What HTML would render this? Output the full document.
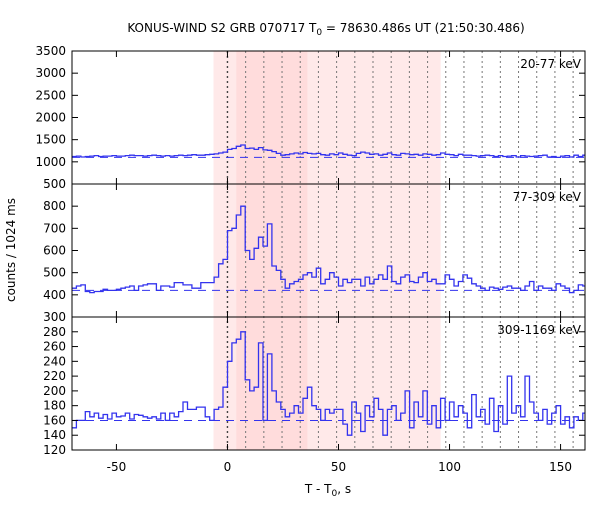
<!DOCTYPE html>
<html><head><meta charset="utf-8"><style>
body{margin:0;background:#fff;}
svg text{font-family:"DejaVu Sans","Liberation Sans",sans-serif;font-size:12px;fill:#000;}
</style></head><body>
<svg id="chart" width="600" height="500" xmlns="http://www.w3.org/2000/svg">
<text x="326" y="32" text-anchor="middle">KONUS-WIND S2 GRB 070717 T<tspan font-size="9" dy="3">0</tspan><tspan dy="-3"> = 78630.486s UT (21:50:30.486)</tspan></text>
<text transform="translate(15,250) rotate(-90)" text-anchor="middle">counts / 1024 ms</text>
<text x="328" y="493" text-anchor="middle">T - T<tspan font-size="9" dy="3">0</tspan><tspan dy="-3">, s</tspan></text>
<g id="plots"></g>
</svg>
<script>
const xTicks=[-50,0,50,100,150];
const binStart=-70, binWidth=2;
const topValues=[1120,1130,1110,1120,1130,1140,1120,1130,1130,1140,1130,1130,1140,1150,1140,1140,1130,1140,1150,1140,1130,1140,1130,1140,1150,1140,1150,1160,1150,1150,1160,1170,
1180,1200,1220,
1280,1300,1350,1380,1300,1310,1280,1320,1270,1260,1230,1190,1150,1160,1180,1200,1180,1210,1190,1180,1190,1160,1150,1180,1160,1200,1170,1150,1140,1190,1220,1200,1170,1180,1150,1170,1200,1160,1150,1190,1180,1160,1170,1150,1180,1170,1150,1160,1200,1170,1160,1140,1170,1150,1150,1140,1130,1140,1150,1140,1120,1140,1120,1130,1140,1110,1140,1130,1120,1130,1140,1150,1110,1120,1100,1130,1140,1110,1150,1120,1150];
const midValues=[430,440,445,415,410,415,415,425,420,420,425,430,435,440,420,440,445,450,450,420,440,440,435,455,455,445,445,430,430,455,455,455,
480,540,560,
690,700,760,800,600,560,610,660,620,720,530,510,470,430,450,460,470,490,500,480,520,450,470,500,480,440,470,455,470,470,440,480,450,470,490,470,530,460,450,480,490,460,455,480,500,460,470,450,450,490,470,440,460,490,475,450,440,430,420,435,430,425,435,440,430,430,420,440,460,420,440,430,430,420,450,440,430,410,420,445,440];
const lowValues=[150,160,160,172,165,170,163,168,162,170,165,166,170,162,168,167,165,163,165,162,170,160,170,165,172,185,175,175,178,178,165,160,
175,178,205,
240,265,270,280,215,200,205,265,160,250,200,185,175,165,170,180,170,190,205,180,175,160,175,170,175,175,155,140,185,170,145,180,165,190,175,140,175,180,160,170,200,150,185,165,200,155,180,150,190,160,185,165,180,170,150,195,165,175,155,190,145,180,155,220,170,180,165,220,185,170,160,175,155,170,180,155,165,150,165,160,170];
const bgLevels=[1100,420,160];
const panelRanges=[[500,3500],[300,900],[120,300]];
const panelTicks=[[1000,1500,2000,2500,3000,3500],[400,500,600,700,800],[140,160,180,200,220,240,260,280]];
const bottomLabels=["500","300","120"];
const panelLabels=["20-77 keV","77-309 keV","309-1169 keV"];
const panelData=[topValues,midValues,lowValues];

const NS="http://www.w3.org/2000/svg";
const L=72,R=585,panelTop=[51,184,317],panelH=133;
const xMin=-70,xMax=161;
function xs(t){return L+(t-xMin)/(xMax-xMin)*(R-L);}
const g=document.getElementById('plots');
function mk(tag,attrs,parent){const e=document.createElementNS(NS,tag);for(const k in attrs)e.setAttribute(k,attrs[k]);(parent||g).appendChild(e);return e;}

let e=mk('rect',{x:xs(-6.3),y:51,width:xs(96)-xs(-6.3),height:399,fill:'#ffe9e9'});


e=mk('rect',{x:xs(4),y:51,width:xs(36)-xs(4),height:399,fill:'#ffdcdc'});


for(let k=0;k<20;k++){const x=xs(8.192*k);
 e=mk('line',{x1:x,x2:x,y1:51,y2:450,stroke:k==0?'#444':'#777','stroke-width':k==0?1.4:1,'stroke-dasharray':'2,3'});
 
 }

panelData.forEach((vals,p)=>{
 const top=panelTop[p],[y0,y1]=panelRanges[p];
 const ys=v=>top+panelH-(v-y0)/(y1-y0)*panelH;
 e=mk('line',{x1:L,x2:R,y1:ys(bgLevels[p]),y2:ys(bgLevels[p]),stroke:'#3333ee','stroke-width':1,'stroke-dasharray':'8,6'});
 
 
 let d='';
 vals.forEach((v,i)=>{const t0=binStart+i*binWidth,t1=t0+binWidth;
  const xa=Math.max(L,Math.min(R,xs(t0))),xb=Math.max(L,Math.min(R,xs(t1)));const y=ys(v);
  d+=(i==0?'M':'L')+xa.toFixed(1)+','+y.toFixed(1)+'L'+xb.toFixed(1)+','+y.toFixed(1);});
 e=mk('path',{d:d,fill:'none',stroke:'#3333ee','stroke-width':1.3});
 
 
 e=mk('rect',{x:L,y:top,width:R-L,height:panelH,fill:'none',stroke:'#000','stroke-width':1});
 
 
 panelTicks[p].forEach(v=>{const y=ys(v);
  mk('line',{x1:L,x2:L+6,y1:y,y2:y,stroke:'#000'});mk('line',{x1:R-6,x2:R,y1:y,y2:y,stroke:'#000'});
  e=mk('text',{x:L-6,y:y+4,'text-anchor':'end'});e.textContent=v;
  
  });
 e=mk('text',{x:L-6,y:top+panelH+4,'text-anchor':'end'});e.textContent=bottomLabels[p];
 
 
 xTicks.forEach(t=>{const x=xs(t);
  mk('line',{x1:x,x2:x,y1:top,y2:top+6,stroke:'#000'});mk('line',{x1:x,x2:x,y1:top+panelH-6,y2:top+panelH,stroke:'#000'});});
 e=mk('text',{x:R-4,y:top+17,'text-anchor':'end'});e.textContent=panelLabels[p];
 
 
});
xTicks.forEach(t=>{e=mk('text',{x:xs(t),y:471,'text-anchor':'middle'});e.textContent=t;
 
 });
</script>
</body></html>
